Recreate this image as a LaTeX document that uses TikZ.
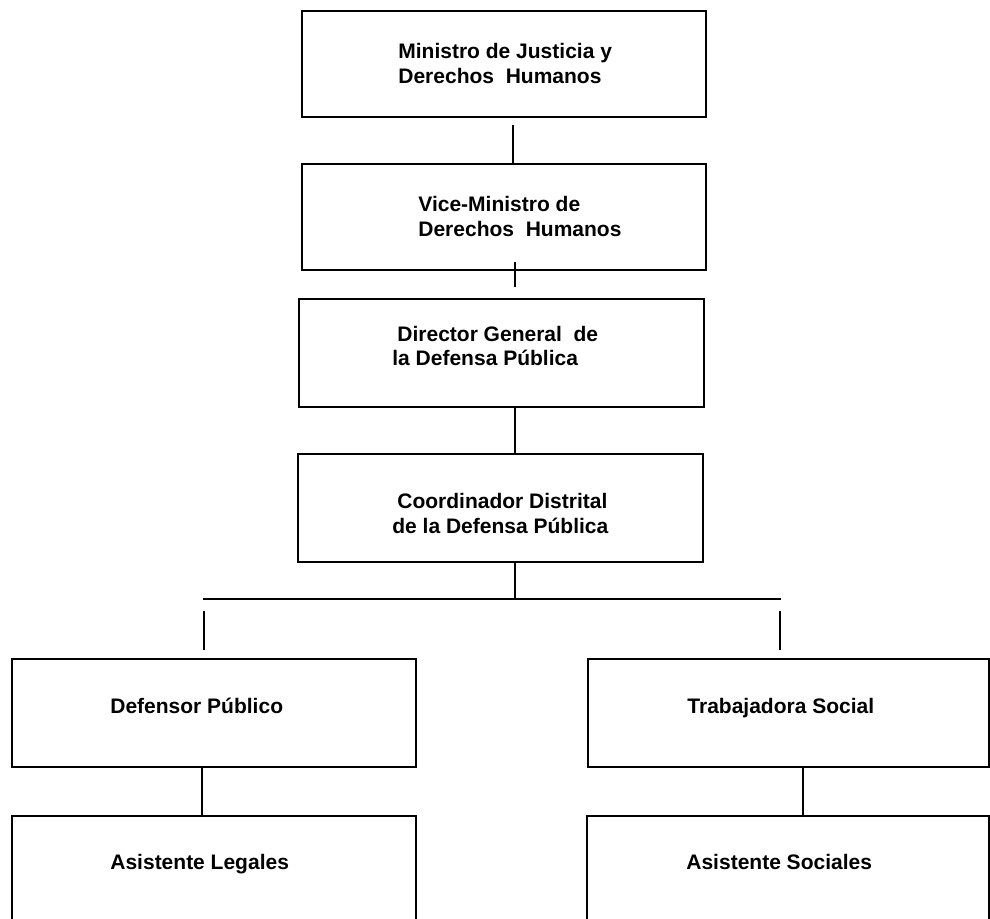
\documentclass[tikz,border=0pt]{standalone}
\usepackage{fontspec}
\setmainfont{Liberation Sans}
\usepackage{tikz}
\tikzset{>=latex}
\tikzset{
  cargo/.style={draw=black, line width=1pt, rectangle, inner sep=0pt},
  rotulo/.style={inner sep=0pt, anchor=base west, align=left, font=\fontsize{10.5pt}{12.5pt}\selectfont\bfseries},
  enlace/.style={black, line width=0.75pt},
}

\begin{document}
\begin{tikzpicture}[x=0.5pt, y=-0.5pt]

  \clip (0,0) rectangle (990,919);

  % Cajas
  \node[cargo, minimum width=202pt, minimum height=53pt] (ministro) at (504,64) {};
  \node[cargo, minimum width=202pt, minimum height=53pt] (vice) at (504,217) {};
  \node[cargo, minimum width=202.5pt, minimum height=54pt] (director) at (501.5,353) {};
  \node[cargo, minimum width=202.5pt, minimum height=54pt] (coordinador) at (500.5,508) {};
  \node[cargo, minimum width=202.25pt, minimum height=54pt] (defensor) at (213.75,713) {};
  \node[cargo, minimum width=200.5pt, minimum height=54pt] (trabajadora) at (788.5,713) {};
  \node[cargo, minimum width=202.25pt, minimum height=54pt] (legales) at (213.75,870) {};
  \node[cargo, minimum width=201pt, minimum height=54pt] (sociales) at (788,870) {};

  % Textos (base = ultima linea)
  \node[rotulo] (t-ministro) at (398,84) {Ministro de Justicia y\\Derechos\ \ Humanos};
  \node[rotulo] (t-vice) at (418,237) {Vice-Ministro de\\Derechos\ \ Humanos};
  \node[rotulo] (t-director) at (392,366) {\hspace*{2.5pt}Director General\ \ de\\la Defensa Pública};
  \node[rotulo] (t-coordinador) at (392,533) {\hspace*{2.5pt}Coordinador Distrital\\de la Defensa Pública};
  \node[rotulo] (t-defensor) at (110,713) {Defensor Público};
  \node[rotulo] (t-trabajadora) at (687,713) {Trabajadora Social};
  \node[rotulo] (t-legales) at (110,869) {Asistente Legales};
  \node[rotulo] (t-sociales) at (686,869) {Asistente Sociales};

  % Enlaces
  \coordinate (eje) at (515,0);
  \coordinate (eje-izq) at (202,0);
  \coordinate (eje-der) at (803,0);
  \coordinate (c-ministro) at (513,125);
  \coordinate (c-vice-a) at (515,262);
  \coordinate (c-vice-b) at (515,287);
  \coordinate (barra-izq) at (203,599);
  \coordinate (barra-der) at (781,599);
  \coordinate (ramal-izq) at (204,611);
  \coordinate (ramal-der) at (780,611);

  \draw[enlace] (c-ministro) -- (c-ministro |- vice.north);
  \draw[enlace] (c-vice-a) -- (c-vice-b);
  \draw[enlace] (director.south -| eje) -- (coordinador.north -| eje);
  \draw[enlace] (coordinador.south -| eje) -- (barra-izq -| eje);
  \draw[enlace] (barra-izq) -- (barra-der);
  \draw[enlace] (ramal-izq) -- ++(0,39);
  \draw[enlace] (ramal-der) -- ++(0,39);
  \draw[enlace] (defensor.south -| eje-izq) -- (legales.north -| eje-izq);
  \draw[enlace] (trabajadora.south -| eje-der) -- (sociales.north -| eje-der);

\end{tikzpicture}
\end{document}
